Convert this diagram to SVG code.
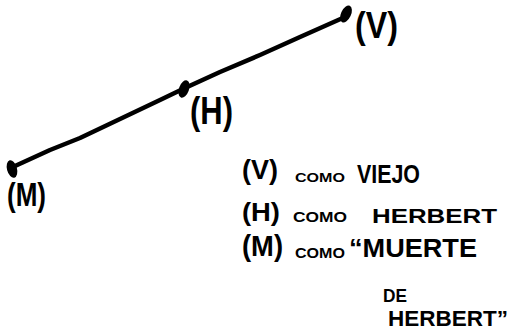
<svg xmlns="http://www.w3.org/2000/svg" width="513" height="332" viewBox="0 0 513 332">
<style>
.t{font-family:"Liberation Sans","DejaVu Sans",sans-serif;fill:#000;font-weight:bold}
.dot{fill:#000}
</style>
<rect width="513" height="332" fill="#fff"/>
<g id="connectors">
<polyline points="15,166 50,150 80,138 120,119 160,100 185,88 220,72 260,55 300,37 345,17" fill="none" stroke="#000" stroke-width="4.5" stroke-linecap="round" stroke-linejoin="round"/>
</g>
<g id="node-V">
<ellipse class="dot" cx="346" cy="14" rx="5" ry="9" transform="rotate(25 346 14)"/>
<text class="t" font-size="36" x="355" y="38" textLength="43" lengthAdjust="spacingAndGlyphs">(V)</text>
</g>
<g id="node-H">
<ellipse class="dot" cx="184" cy="89" rx="5" ry="9" transform="rotate(20 184 89)"/>
<text class="t" font-size="38" x="190" y="124" textLength="43" lengthAdjust="spacingAndGlyphs">(H)</text>
</g>
<g id="node-M">
<ellipse class="dot" cx="12" cy="169" rx="5" ry="9" transform="rotate(-15 12 169)"/>
<text class="t" font-size="34" x="7" y="206" textLength="39" lengthAdjust="spacingAndGlyphs">(M)</text>
</g>
<g id="legend">
<text class="t" font-size="27" x="242" y="179" textLength="36" lengthAdjust="spacingAndGlyphs">(V)</text>
<text class="t" font-size="13" x="295" y="182" textLength="50" lengthAdjust="spacingAndGlyphs">COMO</text>
<text class="t" font-size="25" x="357" y="183" textLength="63" lengthAdjust="spacingAndGlyphs">VIEJO</text>
<text class="t" font-size="25" x="242" y="221" textLength="38" lengthAdjust="spacingAndGlyphs">(H)</text>
<text class="t" font-size="15" x="293" y="222" textLength="54" lengthAdjust="spacingAndGlyphs">COMO</text>
<text class="t" font-size="21" x="372" y="223" textLength="125" lengthAdjust="spacingAndGlyphs">HERBERT</text>
<text class="t" font-size="29" x="242" y="256" textLength="41" lengthAdjust="spacingAndGlyphs">(M)</text>
<text class="t" font-size="14" x="295" y="258" textLength="50" lengthAdjust="spacingAndGlyphs">COMO</text>
<text class="t" font-size="26" x="349" y="257" textLength="128" lengthAdjust="spacingAndGlyphs">“MUERTE</text>
<text class="t" font-size="18" x="383" y="302" textLength="24" lengthAdjust="spacingAndGlyphs">DE</text>
<text class="t" font-size="22" x="388" y="326" textLength="120" lengthAdjust="spacingAndGlyphs">HERBERT”</text>
</g>
</svg>
